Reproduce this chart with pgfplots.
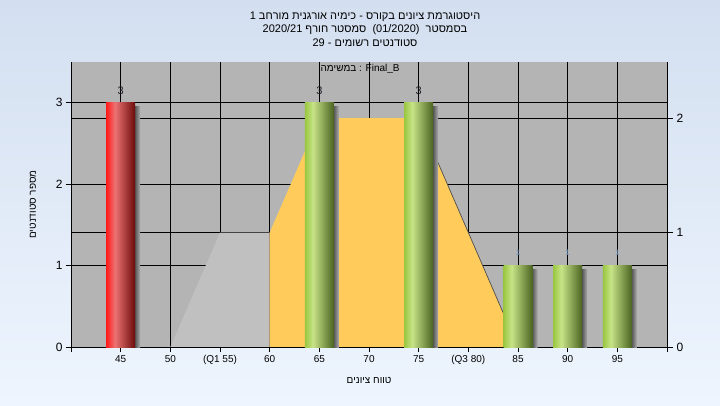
\documentclass[border=0pt]{standalone}
\usepackage{fontspec}
\setmainfont{Liberation Sans}
\usepackage{pgfplots}
\pgfplotsset{compat=1.18}
\TeXXeTstate=1
\definecolor{bgtop}{RGB}{211,223,240}
\definecolor{bgbot}{RGB}{238,245,254}
\definecolor{plotgray}{RGB}{180,180,180}
\definecolor{areagray}{RGB}{192,192,192}
\definecolor{areaorange}{RGB}{255,204,92}
\definecolor{lblblue}{RGB}{100,140,185}
\definecolor{lbldark}{RGB}{30,30,40}
\pgfdeclarehorizontalshading{redbar}{100bp}{rgb(0bp)=(1,0.1,0.1); rgb(25bp)=(1,0.1,0.1); rgb(40bp)=(0.93,0.45,0.45); rgb(75bp)=(0.42,0.04,0.04); rgb(100bp)=(0.42,0.04,0.04)}
\pgfdeclarehorizontalshading{greenbar}{100bp}{rgb(0bp)=(0.6,0.78,0.25); rgb(25bp)=(0.6,0.78,0.25); rgb(39bp)=(0.78,0.89,0.53); rgb(75bp)=(0.29,0.39,0.13); rgb(100bp)=(0.29,0.39,0.13)}
\pgfdeclarehorizontalshading{shadowbar}{100bp}{rgb(0bp)=(0.33,0.33,0.33); rgb(66bp)=(0.33,0.33,0.33); rgb(75bp)=(0.68,0.68,0.68); rgb(100bp)=(0.68,0.68,0.68)}
\pgfplotsset{common/.style={scale only axis, width=596pt, height=285pt, xmin=40, xmax=100, at={(0pt,0pt)}, anchor=south west},
  shadow/.style={ybar, bar width=29pt, bar shift=5pt, draw=none, shade, shading=shadowbar},
  redb/.style={ybar, bar width=29pt, bar shift=0pt, draw=none, shade, shading=redbar},
  greenb/.style={ybar, bar width=29pt, bar shift=0pt, draw=none, shade, shading=greenbar}}
\begin{document}
\begin{tikzpicture}
\path[use as bounding box] (-71pt,-58pt) rectangle (649pt,347pt);
\shade[top color=bgtop, bottom color=bgbot] (-71pt,-58pt) rectangle (649pt,347pt);
\node[font=\fontsize{11}{12}\selectfont, text=black] at (294pt,330pt) {\beginR היסטוגרמת ציונים בקורס - כימיה אורגנית מורחב 1\endR};
\node[font=\fontsize{11}{12}\selectfont, text=black] at (294pt,317pt) {\beginR בסמסטר\ \ \beginL(01/2020)\endL\ \ סמסטר חורף \beginL 2020/21\endL\endR};
\node[font=\fontsize{11}{12}\selectfont, text=black] at (294pt,304pt) {\beginR סטודנטים רשומים - 29\endR};
% background grid
\begin{axis}[common, ymin=0, ymax=3.5,
  axis background/.style={fill=plotgray},
  xtick={45,50,...,95}, ytick={0,1,2,3},
  grid=major, major grid style={black, line width=1pt},
  axis line style={draw=none}, xticklabels={}, yticklabels={},
  major tick length=0pt]
\addplot[draw=none] coordinates {(40,0)};
\end{axis}
% right axis with areas
\begin{axis}[common, ymin=0, ymax=2.49,
  axis x line=none, axis y line*=right,
  axis line style={line width=1pt, -},
  ytick={0,1,2}, ymajorgrids, major grid style={black, line width=1pt},
  tick align=outside, major tick length=6pt,
  ytick style={black, line width=1pt},
  yticklabel style={font=\fontsize{12}{12}\selectfont},
  /pgf/number format/assume math mode=true]
\addplot[fill=areagray, draw=none] coordinates {(50,0)(55,1)(60,1)(60,0)} -- cycle;
\addplot[fill=areaorange, draw=none] coordinates {(60,0)(60,1)(65,2)(75,2)(85,0)} -- cycle;
\addplot[black!70, line width=0.7pt] coordinates {(75,2)(85,0)};
\end{axis}
% bars, left and bottom axes
\begin{axis}[common, ymin=0, ymax=3.5,
  axis x line*=bottom, axis y line*=left,
  axis line style={line width=1pt, -},
  xtick={40,45,...,100},
  xticklabels={,45,50,(Q1 55),60,65,70,75,(Q3 80),85,90,95,},
  ytick={0,1,2,3},
  tick align=outside, tick style={black, line width=1pt}, major tick length=5pt,
  xticklabel style={font=\fontsize{10}{10}\selectfont},
  yticklabel style={font=\fontsize{12}{12}\selectfont},
  /pgf/number format/assume math mode=true,
  xlabel={\beginR טווח ציונים\endR},
  ylabel={\beginR מספר סטודנטים\endR},
  xlabel style={font=\fontsize{10}{10}\selectfont, at={(axis description cs:0.5,-0.119)}, anchor=center},
  ylabel style={font=\fontsize{10}{10}\selectfont, at={(axis description cs:-0.064,0.5)}, anchor=center},
  title={\beginR במשימה\endR{} : Final\_B},
  title style={font=\fontsize{10}{10}\selectfont, at={(axis description cs:0.485,0.954)}, anchor=center}]
% shadows
\addplot[shadow] coordinates {(45,2.95)};
\addplot[shadow] coordinates {(65,2.95)};
\addplot[shadow] coordinates {(75,2.95)};
\addplot[shadow] coordinates {(85,0.95)};
\addplot[shadow] coordinates {(90,0.95)};
\addplot[shadow] coordinates {(95,0.95)};
% bars
\addplot[redb] coordinates {(45,3)};
\addplot[greenb] coordinates {(65,3)};
\addplot[greenb] coordinates {(75,3)};
\addplot[greenb] coordinates {(85,1)};
\addplot[greenb] coordinates {(90,1)};
\addplot[greenb] coordinates {(95,1)};
% value labels
\addplot[draw=none, mark=none, nodes near coords, point meta=explicit symbolic,
  nodes near coords style={font=\fontsize{11}{11}\selectfont, text=lbldark, anchor=center, yshift=12pt}]
  coordinates {(45,3)[3] (65,3)[3] (75,3)[3]};
\addplot[draw=none, mark=none, nodes near coords, point meta=explicit symbolic,
  nodes near coords style={font=\fontsize{8}{8}\selectfont, text=lblblue, anchor=center, yshift=13pt}]
  coordinates {(85,1)[1] (90,1)[1] (95,1)[1]};
\end{axis}
\end{tikzpicture}
\end{document}
